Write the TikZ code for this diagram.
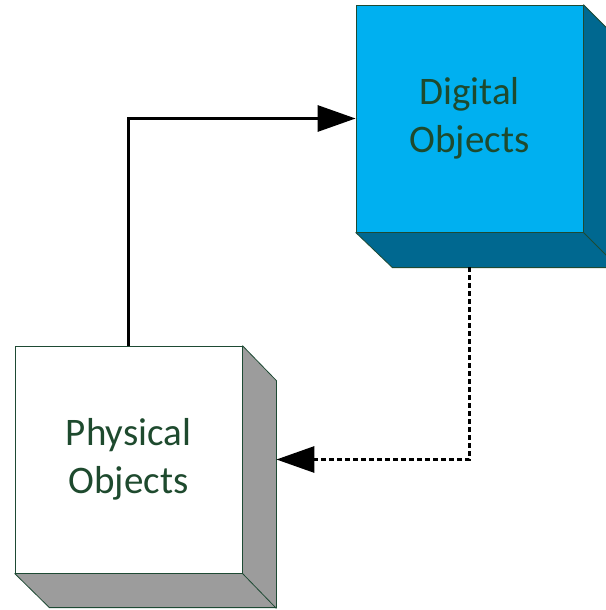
\documentclass[tikz,border=0pt]{standalone}
\usepackage{fontspec}
\setmainfont{Carlito}
\usetikzlibrary{arrows.meta,calc}
\definecolor{cyanface}{HTML}{00B0F0}
\definecolor{cyanside}{HTML}{006890}
\definecolor{greyside}{HTML}{9C9C9C}
\definecolor{edgegreen}{HTML}{1E4A34}
\definecolor{textgreen}{HTML}{1E4A2E}
\tikzset{
  face/.style={draw=edgegreen, line width=0.8pt, minimum width=227pt, minimum height=227pt,
    inner sep=0pt, align=center, text=textgreen, font=\fontsize{39}{48}\selectfont},
  side/.style={draw=edgegreen, line width=0.8pt, line join=miter},
  flow/.style={line width=3pt, -{Triangle[length=38pt,width=26pt]}},
  dotflow/.style={flow, dash pattern=on 5pt off 3pt}
}
\begin{document}
\begin{tikzpicture}[x=1pt,y=-1pt]
\useasboundingbox (0,0) rectangle (605,610);
% Digital Objects box
\node[face, fill=cyanface] (dig) at (469.5,118.5) {Digital\\Objects};
\fill[cyanside] (dig.north east) -- ++(36,36) -- ++(0,227) -- ++(-227,0) -- (dig.south west) -- (dig.south east) -- cycle;
\draw[side] (dig.north east) -- ++(36,36) -- ++(0,227) -- ++(-227,0) -- (dig.south west);
\draw[side] (dig.south east) -- ++(36,36);
\node[face, fill=cyanface] at (dig.center) {Digital\\Objects};
% Physical Objects box
\node[face, fill=white] (phys) at (128.5,459.5) {Physical\\Objects};
\fill[greyside] (phys.north east) -- ++(34,35) -- ++(0,227) -- ++(-227,0) -- (phys.south west) -- (phys.south east) -- cycle;
\draw[side] (phys.north east) -- ++(34,35) -- ++(0,227) -- ++(-227,0) -- (phys.south west);
\draw[side] (phys.south east) -- ++(34,35);
\node[face, fill=white] at (phys.center) {Physical\\Objects};
% connectors
\coordinate (digback) at ($(dig.south)+(0,35)$);
\coordinate (physside) at ($(phys.east)+(34,0)$);
\draw[flow] (phys.north) |- (dig.west);
\draw[dotflow] (digback) |- (physside);
\end{tikzpicture}
\end{document}
